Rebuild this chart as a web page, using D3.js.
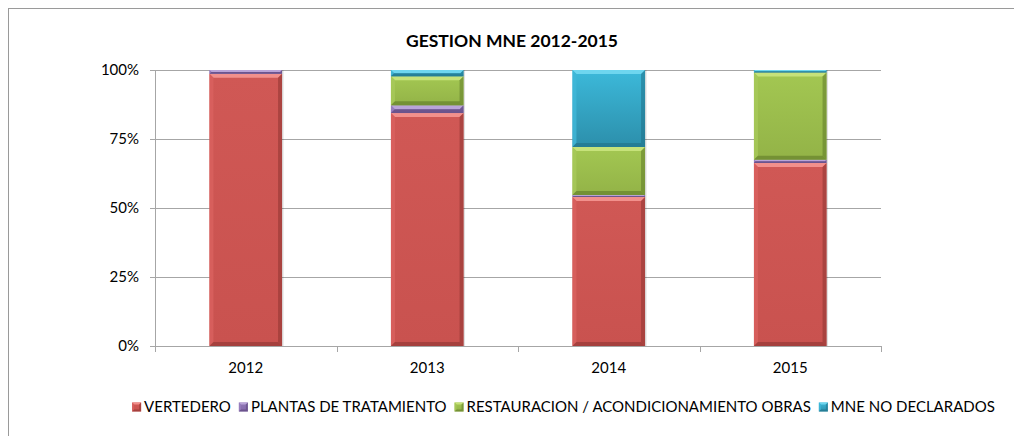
<!DOCTYPE html>
<html>
<head>
<meta charset="utf-8">
<script src="https://cdn.jsdelivr.net/npm/d3@7"></script>
<style>
  html, body { margin: 0; padding: 0; background: #ffffff; }
  svg { display: block; font-family: Lato, "Liberation Sans", sans-serif; }
</style>
</head>
<body>
<div id="chart"></div>
<script>
// Chart data (percent of yearly total)
var years = ["2012", "2013", "2014", "2015"];
var vertedero = [98.6, 84.4, 54.0, 66.3];
var plantas = [1.4, 2.8, 0.7, 1.2];
var restauracion = [0, 10.5, 17.4, 31.6];
var noDeclarados = [0, 2.3, 27.9, 0.9];
var seriesNames = ["VERTEDERO", "PLANTAS DE TRATAMIENTO", "RESTAURACION / ACONDICIONAMIENTO OBRAS", "MNE NO DECLARADOS"];
var yTicks = [0, 0.25, 0.5, 0.75, 1];
var title = "GESTION MNE 2012-2015";

(function () {
  "use strict";

  ////////////////////////////////////////////////////////////////////////////////
  //
  // Settings
  //
  var w = 1014;
  var h = 436;
  var plot = {left: 155, right: 881, top: 70, bottom: 346};
  var bar_ratio = 0.4;
  var bevel = 4;

  // base, light (top bevel), dark (bottom / right side)
  var colors = [
    {top: "#f2908c", light: "#d9625f", dark: "#8e3532", g0: "#d05855", g1: "#c9524f"},
    {top: "#b9a4d8", light: "#9a80c0", dark: "#5a4478", g0: "#9078b6", g1: "#8468aa"},
    {top: "#c6e27a", light: "#a7c95a", dark: "#5f7a28", g0: "#a3c752", g1: "#93b347"},
    {top: "#6ed6ef", light: "#40b8d8", dark: "#1f6f86", g0: "#3cb9da", g1: "#2c8fab"}
  ];

  var rows = years.map(function (d, i) {
    return {year: d, s0: vertedero[i], s1: plantas[i], s2: restauracion[i], s3: noDeclarados[i]};
  });
  var keys = ["s0", "s1", "s2", "s3"];

  var stacked = d3.stack().keys(keys).offset(d3.stackOffsetExpand)(rows);

  var x = d3.scaleBand().domain(years).range([plot.left, plot.right]).padding(0);
  var y = d3.scaleLinear().domain([0, 1]).range([plot.bottom, plot.top]);

  var svg = d3.select("#chart").append("svg")
    .attr("width", w)
    .attr("height", h);

  // Outer frame of the chart area
  svg.append("rect")
    .attr("x", 8.5).attr("y", 8.5)
    .attr("width", w).attr("height", h)
    .attr("fill", "#ffffff")
    .attr("stroke", "#9a9a9a")
    .attr("stroke-width", 1);

  // Gradients per series
  var defs = svg.append("defs");
  colors.forEach(function (c, i) {
    var g = defs.append("linearGradient")
      .attr("id", "grad" + i)
      .attr("x1", "0%").attr("y1", "0%")
      .attr("x2", "0%").attr("y2", "100%");
    g.append("stop").attr("offset", 0).attr("stop-color", c.g0);
    g.append("stop").attr("offset", 1).attr("stop-color", c.g1);
  });

  ////////////////////////////////////////////////////////////////////////////////
  //
  // Title
  //
  svg.append("text")
    .attr("x", 512)
    .attr("y", 41)
    .attr("dy", "0.35em")
    .attr("text-anchor", "middle")
    .attr("font-size", 17.5)
    .attr("font-weight", "bold")
    .attr("fill", "#000000")
    .text(title);

  ////////////////////////////////////////////////////////////////////////////////
  //
  // Grid and axes
  //
  svg.append("g").selectAll("line")
    .data(yTicks)
    .enter()
    .append("line")
    .attr("x1", plot.left - 5)
    .attr("x2", plot.right)
    .attr("y1", function (d) { return Math.round(y(d)) + 0.5; })
    .attr("y2", function (d) { return Math.round(y(d)) + 0.5; })
    .attr("stroke", "#a6a6a6")
    .attr("stroke-width", 1);

  svg.append("line")
    .attr("x1", plot.left + 0.5).attr("x2", plot.left + 0.5)
    .attr("y1", plot.top).attr("y2", plot.bottom)
    .attr("stroke", "#a6a6a6");

  svg.append("g").selectAll("text")
    .data(yTicks)
    .enter()
    .append("text")
    .attr("x", plot.left - 16)
    .attr("y", function (d) { return y(d); })
    .attr("dy", "0.35em")
    .attr("text-anchor", "end")
    .attr("font-size", 15)
    .attr("fill", "#000000")
    .text(d3.format(".0%"));

  // X ticks at category boundaries
  var boundaries = years.map(function (d) { return x(d); }).concat([plot.right]);
  svg.append("g").selectAll("line")
    .data(boundaries)
    .enter()
    .append("line")
    .attr("x1", function (d) { return Math.round(d) + 0.5; })
    .attr("x2", function (d) { return Math.round(d) + 0.5; })
    .attr("y1", plot.bottom)
    .attr("y2", plot.bottom + 6)
    .attr("stroke", "#a6a6a6");

  svg.append("g").selectAll("text")
    .data(years)
    .enter()
    .append("text")
    .attr("x", function (d) { return x(d) + x.bandwidth() / 2; })
    .attr("y", 368)
    .attr("dy", "0.35em")
    .attr("text-anchor", "middle")
    .attr("font-size", 15)
    .attr("fill", "#000000")
    .text(function (d) { return d; });

  ////////////////////////////////////////////////////////////////////////////////
  //
  // Bars with a bevel look
  //
  function drawBevelBox(g, x0, y0, bw, bh, c, gradId, b) {
    b = Math.min(b, bh / 2, bw / 2);
    g.append("rect")
      .attr("x", x0).attr("y", y0)
      .attr("width", bw).attr("height", bh)
      .attr("fill", "url(#" + gradId + ")");
    if (bh < 1.5) return;
    // top light edge
    g.append("polygon")
      .attr("points", [[x0, y0], [x0 + bw, y0], [x0 + bw - b, y0 + b], [x0 + b, y0 + b]].join(" "))
      .attr("fill", c.top);
    // left edge
    g.append("polygon")
      .attr("points", [[x0, y0], [x0 + b, y0 + b], [x0 + b, y0 + bh - b], [x0, y0 + bh]].join(" "))
      .attr("fill", c.light).attr("opacity", 0.8);
    // right edge
    g.append("polygon")
      .attr("points", [[x0 + bw, y0], [x0 + bw, y0 + bh], [x0 + bw - b, y0 + bh - b], [x0 + bw - b, y0 + b]].join(" "))
      .attr("fill", c.dark).attr("opacity", 0.55);
    // bottom edge
    g.append("polygon")
      .attr("points", [[x0, y0 + bh], [x0 + b, y0 + bh - b], [x0 + bw - b, y0 + bh - b], [x0 + bw, y0 + bh]].join(" "))
      .attr("fill", c.dark).attr("opacity", 0.6);
  }

  var bar_w = x.bandwidth() * bar_ratio;
  var bars = svg.append("g");

  // soft shadow behind each bar
  bars.selectAll("rect.shadow")
    .data(years)
    .enter()
    .append("rect")
    .attr("class", "shadow")
    .attr("x", function (d) { return x(d) + (x.bandwidth() - bar_w) / 2 + 1.5; })
    .attr("y", y(1))
    .attr("width", bar_w)
    .attr("height", plot.bottom - y(1))
    .attr("fill", "#000000")
    .attr("opacity", 0.12);

  stacked.forEach(function (layer, i) {
    layer.forEach(function (d) {
      var top = y(d[1]);
      var bh = y(d[0]) - top;
      if (bh <= 0.05) return;
      var x0 = x(d.data.year) + (x.bandwidth() - bar_w) / 2;
      drawBevelBox(bars.append("g"), x0, top, bar_w, bh, colors[i], "grad" + i, bevel);
    });
  });

  ////////////////////////////////////////////////////////////////////////////////
  //
  // Legend
  //
  var legend = svg.append("g");
  var box = 9;
  var text_gap = 3;
  var item_gap = 8;
  var cursor = 0;
  seriesNames.forEach(function (name, i) {
    var item = legend.append("g").attr("transform", "translate(" + cursor + ",0)");
    drawBevelBox(item, 0, -box / 2, box, box, colors[i], "grad" + i, 2);
    var t = item.append("text")
      .attr("x", box + text_gap)
      .attr("y", 0)
      .attr("dy", "0.35em")
      .attr("font-size", 15)
      .attr("fill", "#000000")
      .text(name);
    cursor += box + text_gap + t.node().getComputedTextLength() + item_gap;
  });
  var total = cursor - item_gap;
  legend.attr("transform", "translate(" + (563.5 - total / 2) + ",407)");
})();
</script>
</body>
</html>
